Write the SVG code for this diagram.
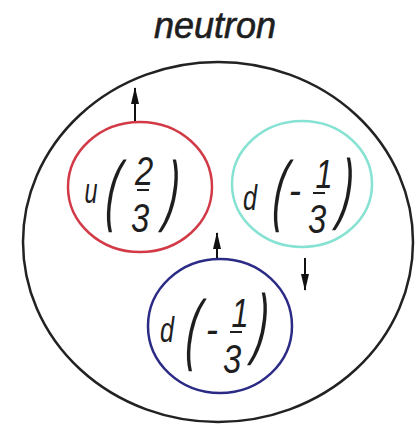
<svg xmlns="http://www.w3.org/2000/svg" width="420" height="425" viewBox="0 0 420 425">
<style>
.t{font-family:"Liberation Sans",Arial,sans-serif;font-style:italic;fill:#1e1e1e;text-anchor:middle}
.lbl{font-size:36px}
.par{font-size:78px}
.dig{font-size:41px}
.bar{stroke:#1e1e1e;stroke-width:2}
.ring{fill:none;stroke-width:2.5}
.conn{stroke:#111;stroke-width:2;fill:none}
</style>
<defs>
<marker id="ah" viewBox="0 0 17 9" refX="16" refY="4.5" markerWidth="17" markerHeight="9" markerUnits="userSpaceOnUse" orient="auto">
<path d="M0 0.5 L17 4.5 L0 8.5 Z" fill="#111"/>
</marker>
</defs>
<rect width="420" height="425" fill="#fff"/>
<g id="neutron">
<ellipse class="ring" cx="218" cy="242" rx="195" ry="180" stroke="#222"/>
<text class="t" font-size="36" stroke="#1e1e1e" stroke-width="0.6" transform="translate(215,38)">neutron</text>
</g>
<g id="quark-u">
<ellipse class="ring" cx="140" cy="187" rx="72" ry="65" stroke="#d23a48"/>
<text class="t lbl" font-size="38" transform="translate(91,203) scale(0.65,1)">u</text>
<text class="t par" transform="translate(111,216) skewX(-6) scale(0.5,1)">(</text>
<text class="t dig" transform="translate(144,185) scale(0.8,1)">2</text>
<line class="bar" x1="137" y1="190" x2="149" y2="190"/>
<text class="t dig" transform="translate(140,232) scale(0.8,1)">3</text>
<text class="t par" transform="translate(170,216) skewX(-6) scale(0.5,1)">)</text>
</g>
<g id="quark-d1">
<ellipse class="ring" cx="302" cy="184" rx="70" ry="63" stroke="#86e2d2"/>
<text class="t lbl" font-size="32" transform="translate(250,210) scale(0.7,1)">d</text>
<text class="t par" transform="translate(278,216) skewX(-6) scale(0.5,1)">(</text>
<text class="t dig" transform="translate(295,204) scale(0.9,1)">-</text>
<text class="t dig" transform="translate(324,188) scale(0.75,1)">1</text>
<line class="bar" x1="313" y1="193" x2="325" y2="193"/>
<text class="t dig" transform="translate(317,233) scale(0.8,1)">3</text>
<text class="t par" transform="translate(344,214) skewX(-6) scale(0.5,1)">)</text>
</g>
<g id="quark-d2">
<ellipse class="ring" cx="220" cy="326" rx="72" ry="67" stroke="#2b2b86"/>
<text class="t lbl" font-size="32" transform="translate(167,342) scale(0.7,1)">d</text>
<text class="t par" transform="translate(191,355) skewX(-6) scale(0.5,1)">(</text>
<text class="t dig" transform="translate(212,343) scale(0.9,1)">-</text>
<text class="t dig" transform="translate(240,327) scale(0.75,1)">1</text>
<line class="bar" x1="230" y1="332" x2="242" y2="332"/>
<text class="t dig" transform="translate(232,373) scale(0.8,1)">3</text>
<text class="t par" transform="translate(259,349) skewX(-6) scale(0.5,1)">)</text>
</g>
<g id="connectors">
<line class="conn" x1="135" y1="121" x2="135" y2="88" marker-end="url(#ah)"/>
<line class="conn" x1="217" y1="258" x2="217" y2="233" marker-end="url(#ah)"/>
<line class="conn" x1="305" y1="258" x2="305" y2="290" marker-end="url(#ah)"/>
</g>
</svg>
